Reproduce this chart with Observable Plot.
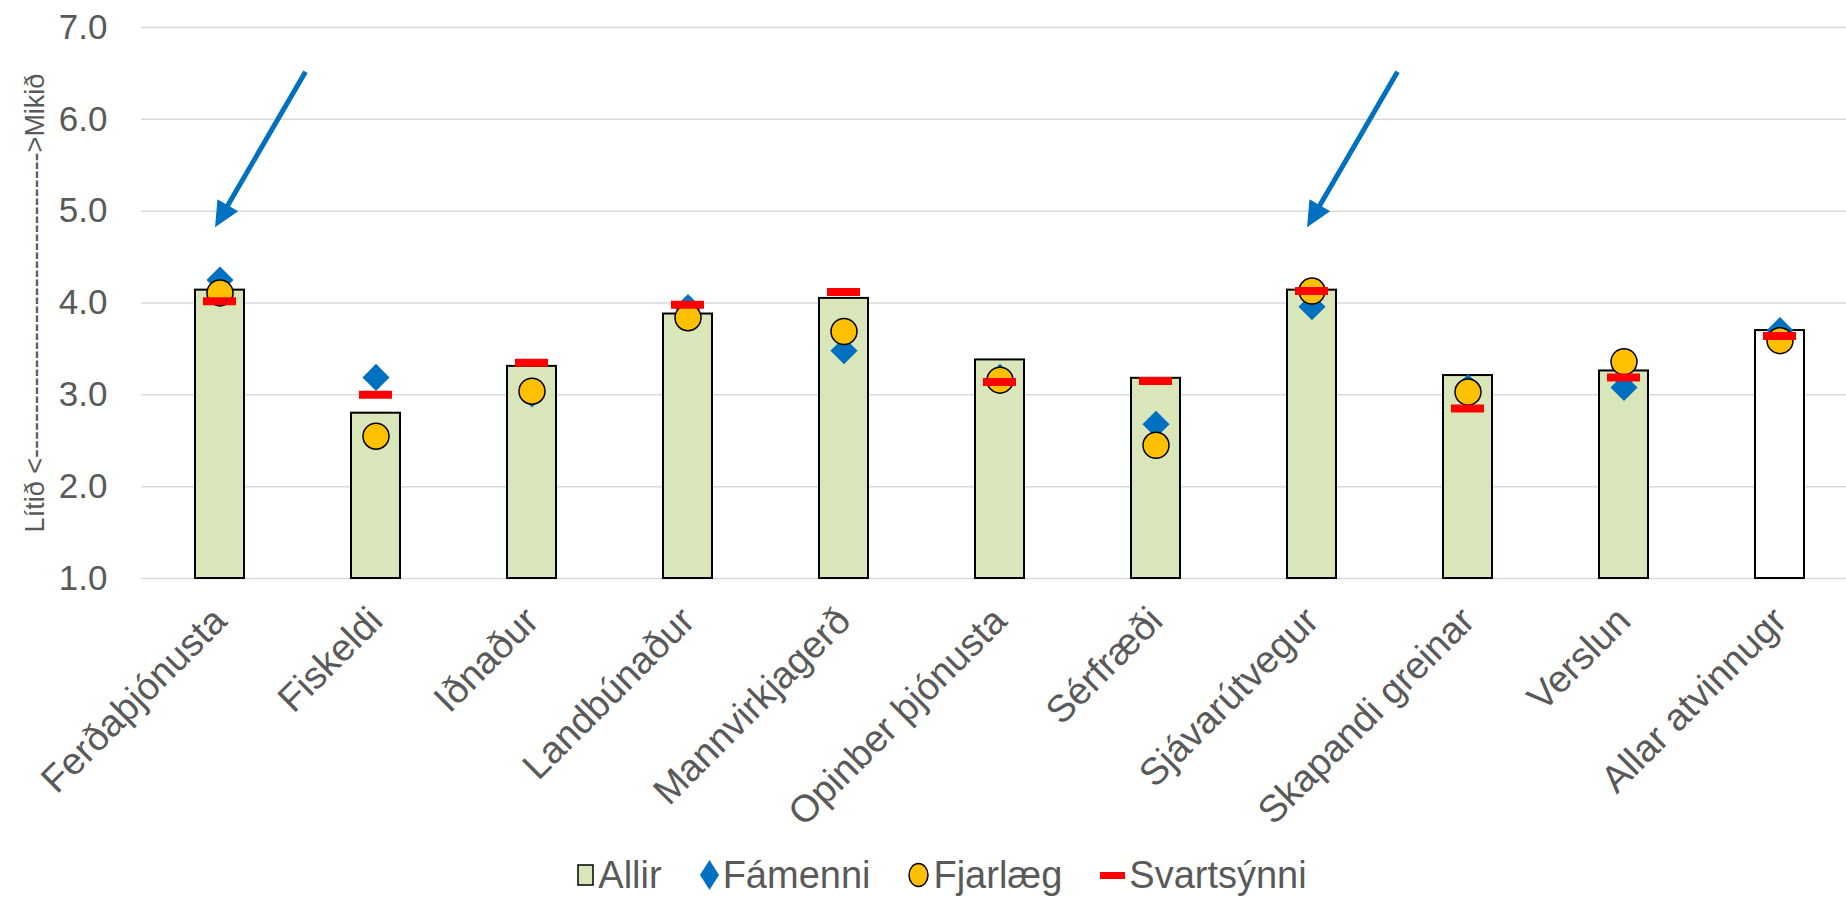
<!DOCTYPE html>
<html><head><meta charset="utf-8">
<script src="https://cdn.jsdelivr.net/npm/d3@7"></script>
<script src="https://cdn.jsdelivr.net/npm/@observablehq/plot@0.6"></script>
<style>
body{margin:0;background:#fff;font-family:"Liberation Sans",Arial,sans-serif;}
#legend{display:flex;justify-content:center;align-items:center;height:44px;padding-top:13px;font-size:38px;color:#595959;margin-left:38px;}
#legend .item{display:flex;align-items:center;margin:0 19px;}
#legend .item svg{margin-right:4px;}
</style></head><body>
<div id="chart"></div>
<div id="legend"></div>
<script>
const categories = ["Ferðaþjónusta","Fiskeldi","Iðnaður","Landbúnaður","Mannvirkjagerð","Opinber þjónusta","Sérfræði","Sjávarútvegur","Skapandi greinar","Verslun","Allar atvinnugr"];
const allir      = [4.14, 2.80, 3.31, 3.88, 4.05, 3.38, 3.18, 4.14, 3.21, 3.26, 3.70];
const famenni    = [4.25, 3.19, 3.01, 3.95, 3.48, 3.19, 2.68, 3.96, 3.08, 3.08, 3.70];
const fjarlaeg   = [4.11, 2.55, 3.04, 3.84, 3.69, 3.16, 2.45, 4.13, 3.03, 3.36, 3.59];
const svartsynni = [4.02, 3.00, 3.35, 3.98, 4.12, 3.14, 3.15, 4.13, 2.85, 3.19, 3.64];
const yTicks = [1, 2, 3, 4, 5, 6, 7];
const seriesNames = ["Allir", "Fámenni", "Fjarlæg", "Svartsýnni"];
const axisTitle = "Lítið <" + "-".repeat(34) + ">Mikið";
const arrowCats = ["Ferðaþjónusta", "Sjávarútvegur"];
const arrowTipY = [4.88, 4.88];

const data = categories.map((cat, i) => ({cat, allir: allir[i], famenni: famenni[i], fjarlaeg: fjarlaeg[i], svartsynni: svartsynni[i]}));
const arrowData = arrowCats.map((cat, i) => ({cat, y: arrowTipY[i]}));

const arrowShape = {
  draw(ctx, l) {
    const hl = 17, hw = 8;
    ctx.moveTo(0, 0);
    ctx.lineTo(0, -l + hl);
    ctx.moveTo(-hw, -l + hl);
    ctx.lineTo(0, -l);
    ctx.lineTo(hw, -l + hl);
    ctx.closePath();
  }
};

const chart = Plot.plot({
  width: 1846, height: 840,
  marginLeft: 141, marginRight: 0, marginTop: 27, marginBottom: 262,
  style: {fontFamily: "Liberation Sans, Arial, sans-serif", color: "#595959", background: "white", overflow: "visible"},
  x: {domain: categories, range: [141, 1858], paddingInner: 0.683, paddingOuter: 0.3415, label: null},
  y: {domain: [1, 7], label: null},
  color: {type: "identity"},
  marks: [
    Plot.gridY(yTicks, {stroke: "#d9d9d9", strokeOpacity: 1, strokeWidth: 1.5}),
    Plot.axisY(yTicks, {tickSize: 0, tickPadding: 34, tickFormat: d3.format(".1f"), fontSize: 35, label: null}),
    Plot.axisX({tickSize: 0, tickPadding: 36, tickRotate: -45, fontSize: 38, label: null}),
    Plot.barY(data, {x: "cat", y1: 1, y2: "allir", fill: d => d.cat === "Allar atvinnugr" ? "white" : "#D9E6B9", stroke: "black", strokeWidth: 2}),
    Plot.dot(data, {x: "cat", y: "famenni", symbol: "diamond2", r: 12.2, fill: "#0070C0"}),
    Plot.dot(data, {x: "cat", y: "fjarlaeg", r: 13, fill: "#FFC000", stroke: "black", strokeWidth: 1.5}),
    Plot.tickY(data, {x: "cat", y: "svartsynni", stroke: "#FF0000", strokeWidth: 8, insetLeft: 8, insetRight: 8}),
    Plot.vector(arrowData, {x: "cat", y: "y", length: 174, rotate: 210.2, anchor: "end", shape: arrowShape, stroke: "#0070C0", fill: "#0070C0", strokeWidth: 5, strokeLinecap: "butt", strokeLinejoin: "miter", dx: -2}),
    Plot.text([axisTitle], {frameAnchor: "left", text: d => d, rotate: -90, dx: -106, textAnchor: "middle", fontSize: 27, fill: "#595959"})
  ]
});
document.getElementById("chart").appendChild(chart);

const swatches = [
  '<svg width="17" height="22"><rect x="1" y="1" width="15" height="20" fill="#D9E6B9" stroke="black" stroke-width="1.5"/></svg>',
  '<svg width="19" height="30"><polygon points="9.5,0 19,15 9.5,30 0,15" fill="#0070C0"/></svg>',
  '<svg width="21" height="26"><ellipse cx="10.5" cy="13" rx="9.5" ry="11.5" fill="#FFC000" stroke="black" stroke-width="1.5"/></svg>',
  '<svg width="25" height="7"><rect x="0" y="0" width="25" height="7" fill="#FF0000"/></svg>'
];
document.getElementById("legend").innerHTML = seriesNames.map((n, i) => `<div class="item">${swatches[i]}<span>${n}</span></div>`).join("");
</script>
</body></html>
